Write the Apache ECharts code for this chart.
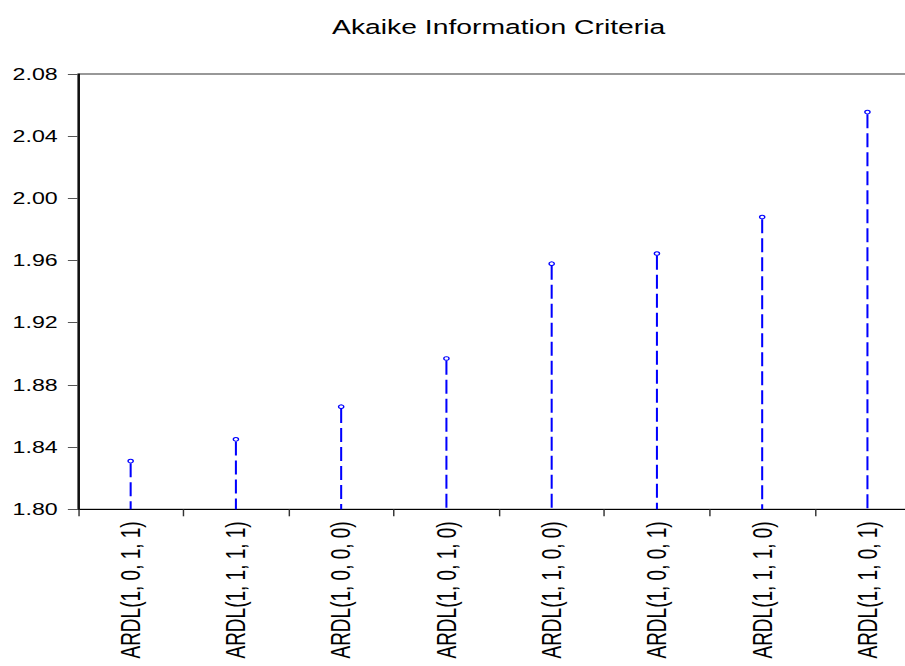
<!DOCTYPE html>
<html>
<head>
<meta charset="utf-8">
<title>Akaike Information Criteria</title>
<script src="https://cdn.jsdelivr.net/npm/echarts@6/dist/echarts.min.js"></script>
<style>
  html, body { margin: 0; padding: 0; background: #fff; overflow: hidden; width: 905px; height: 666px; }
  #wrap { width: 905px; height: 666px; overflow: hidden; position: relative; }
  /* the source picture is stretched sideways, so draw narrow and widen it */
  #chart { width: 624px; height: 666px; overflow: hidden; transform: scaleX(1.4503); transform-origin: 0 0; }
</style>
</head>
<body>
<div id="wrap"><div id="chart"></div></div>
<script>
var models = ['ARDL(1, 0, 1, 1)', 'ARDL(1, 1, 1, 1)', 'ARDL(1, 0, 0, 0)', 'ARDL(1, 0, 1, 0)',
              'ARDL(1, 1, 0, 0)', 'ARDL(1, 0, 0, 1)', 'ARDL(1, 1, 1, 0)', 'ARDL(1, 1, 0, 1)'];
var aicValues = [1.831, 1.845, 1.866, 1.897, 1.958, 1.9645, 1.988, 2.0555];
var yMin = 1.80, yMax = 2.08, yStep = 0.04;

var blue = '#0000ff';
var font = 'Liberation Sans, Arial, sans-serif';

var stems = [];
for (var i = 0; i < aicValues.length; i++) {
  stems.push([i, aicValues[i]]);
}

var option = {
  animation : false,
  backgroundColor : '#fff',
  title : {
    text : 'Akaike Information Criteria',
    left : 229,
    top : 17,
    padding : 0,
    textStyle : {
      color : '#000',
      fontFamily : font,
      fontSize : 19.5,
      fontWeight : 'normal'
    }
  },
  grid : {
    left : 53.8,
    right : -10.4,
    top : 74,
    bottom : 156.7,
    outerBoundsMode : 'none',
    containLabel : false,
    show : true,
    borderColor : '#333',
    borderWidth : 1,
    backgroundColor : 'transparent'
  },
  xAxis : {
    type : 'category',
    data : models,
    boundaryGap : true,
    axisLine : { lineStyle : { color : '#000', width : 1 } },
    axisTick : { show : true, length : 7, lineStyle : { color : '#333' } },
    axisLabel : {
      rotate : 90,
      margin : 12,
      color : '#000',
      fontFamily : font,
      fontSize : 19
    },
    splitLine : { show : false }
  },
  yAxis : {
    type : 'value',
    min : yMin,
    max : yMax,
    interval : yStep,
    axisLine : { show : true, lineStyle : { color : '#000', width : 1.2 } },
    axisTick : { show : true, length : 7, lineStyle : { color : '#555' } },
    axisLabel : {
      margin : 14,
      color : '#000',
      fontFamily : font,
      fontSize : 16,
      formatter : function (v) { return v.toFixed(2); }
    },
    splitLine : { show : false }
  },
  series : [
    {
      type : 'custom',
      data : stems,
      renderItem : function (params, api) {
        var top = api.coord([api.value(0), api.value(1)]);
        var base = api.coord([api.value(0), yMin]);
        return {
          type : 'group',
          children : [
            {
              type : 'line',
              shape : { x1 : top[0], y1 : top[1] + 2.2, x2 : base[0], y2 : base[1] },
              style : { stroke : blue, lineWidth : 1.4, lineDash : [14, 5] }
            },
            {
              type : 'circle',
              shape : { cx : top[0], cy : top[1], r : 1.8 },
              style : { fill : '#fff', stroke : blue, lineWidth : 1 }
            }
          ]
        };
      }
    }
  ]
};

var chart = echarts.init(document.getElementById('chart'), null, { renderer : 'svg' });
chart.setOption(option);
</script>
</body>
</html>
